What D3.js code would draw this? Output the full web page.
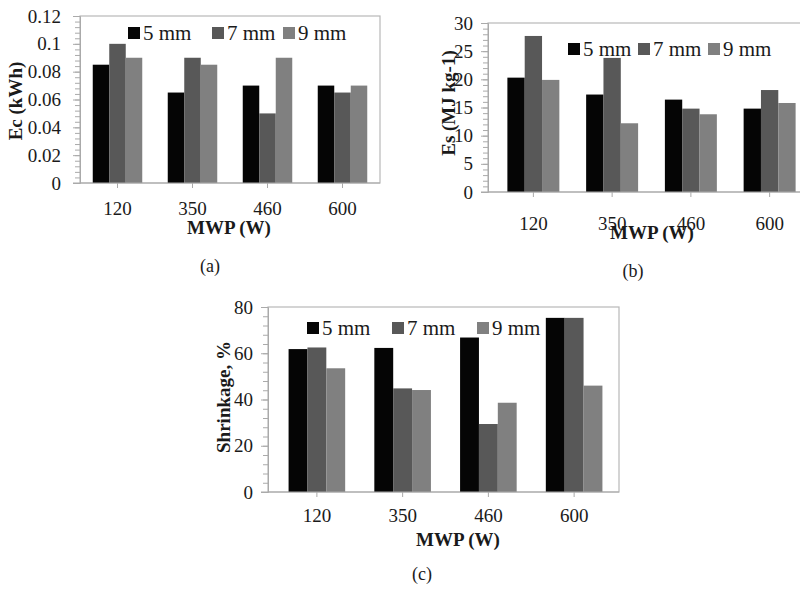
<!DOCTYPE html>
<html>
<head>
<meta charset="utf-8">
<script src="https://cdn.jsdelivr.net/npm/d3@7"></script>
<style>
  body { margin: 0; background: #fff; }
  text { font-family: "Liberation Serif", "DejaVu Serif", serif; fill: #1a1a1a; }
</style>
</head>
<body>
<svg width="800" height="592"></svg>
<script>
var categories = ['120', '350', '460', '600'];
var seriesNames = ['5 mm', '7 mm', '9 mm'];
var colors = ['#050505', '#585858', '#808080'];

// Ec (kWh)
var ecValues = [
  [0.085, 0.065, 0.07, 0.07],
  [0.1, 0.09, 0.05, 0.065],
  [0.09, 0.085, 0.09, 0.07]
];
var ecTicks = [0, 0.02, 0.04, 0.06, 0.08, 0.1, 0.12];

// Es (MJ kg-1)
var esValues = [
  [20.3, 17.3, 16.4, 14.8],
  [27.7, 23.8, 14.8, 18.1],
  [19.9, 12.2, 13.8, 15.8]
];
var esTicks = [0, 5, 10, 15, 20, 25, 30];

// Shrinkage, %
var shValues = [
  [61.8, 62.3, 66.8, 75.3],
  [62.5, 44.8, 29.4, 75.3],
  [53.5, 44.1, 38.6, 46]
];
var shTicks = [0, 20, 40, 60, 80];

var svg = d3.select('svg');

function drawPanel(cfg) {
  var g = svg.append('g');
  var y = d3.scaleLinear().domain([0, cfg.ticks[cfg.ticks.length - 1]]).range([cfg.bottom, cfg.top]);
  var x0 = d3.scaleBand().domain(categories).range([cfg.bandLeft, cfg.bandRight])
    .paddingInner(0.34).paddingOuter(0.17);
  var x1 = d3.scaleBand().domain(seriesNames).range([0, x0.bandwidth()]);

  // frame
  g.append('rect')
    .attr('x', cfg.left).attr('y', cfg.top)
    .attr('width', cfg.right - cfg.left).attr('height', cfg.bottom - cfg.top)
    .attr('fill', 'none').attr('stroke', '#b8b8b8').attr('stroke-width', 1.2);

  // bars
  seriesNames.forEach(function(s, i) {
    g.selectAll('.b' + i)
      .data(cfg.values[i])
      .enter().append('rect')
      .attr('x', function(d, j) { return x0(categories[j]) + x1(s); })
      .attr('y', function(d) { return y(d); })
      .attr('width', x1.bandwidth())
      .attr('height', function(d) { return cfg.bottom - y(d); })
      .attr('fill', colors[i]);
  });

  // y axis with minor ticks
  var step = cfg.ticks[1] - cfg.ticks[0];
  var minor = d3.range(0, cfg.ticks[cfg.ticks.length - 1] + step / 10, step / 5);
  var yMinor = d3.axisLeft(y).tickValues(minor).tickSize(5).tickFormat('');
  var gm = g.append('g').attr('transform', 'translate(' + cfg.left + ',0)').call(yMinor);
  gm.selectAll('line').attr('stroke', '#aaa');
  gm.select('.domain').remove();

  var yAxis = d3.axisLeft(y).tickValues(cfg.ticks).tickSize(7).tickPadding(cfg.tickPad)
    .tickFormat(function(d) { return String(d); });
  var ga = g.append('g').attr('transform', 'translate(' + cfg.left + ',0)').call(yAxis);
  ga.attr('font-family', null);
  ga.select('.domain').attr('stroke', '#aaa');
  ga.selectAll('line').attr('stroke', '#aaa');
  ga.selectAll('text').style('font-size', '19px').attr('fill', '#1a1a1a');

  // x axis
  var xAxis = d3.axisBottom(x0).tickSize(5).tickSizeOuter(0).tickPadding(cfg.xPad);
  var gx = g.append('g').attr('transform', 'translate(0,' + cfg.bottom + ')').call(xAxis);
  gx.attr('font-family', null);
  gx.select('.domain').remove();
  gx.selectAll('line').attr('stroke', '#aaa');
  gx.selectAll('text').style('font-size', '19px').attr('fill', '#1a1a1a');
  g.append('line')
    .attr('x1', cfg.left - 7).attr('x2', cfg.right)
    .attr('y1', cfg.bottom).attr('y2', cfg.bottom)
    .attr('stroke', '#aaa').attr('stroke-width', 1.2);

  // legend
  var lg = g.selectAll('.leg').data(seriesNames).enter().append('g')
    .attr('transform', function(d, i) { return 'translate(' + cfg.legendX[i] + ',' + cfg.legendY + ')'; });
  lg.append('rect').attr('x', 0).attr('y', -6).attr('width', 12).attr('height', 12)
    .attr('fill', function(d, i) { return colors[i]; });
  lg.append('text').attr('x', 15).attr('y', 7).style('font-size', '21px').text(function(d) { return d; });

  // titles
  g.append('text')
    .attr('transform', 'translate(' + cfg.yTitleX + ',' + cfg.yTitleY + ') rotate(-90)')
    .attr('text-anchor', 'middle').attr('dy', '0.35em')
    .style('font-size', '19px').style('font-weight', 'bold')
    .text(cfg.yTitle);
  g.append('text')
    .attr('x', cfg.xTitleX).attr('y', cfg.xTitleY)
    .attr('text-anchor', 'middle')
    .style('font-size', '19px').style('font-weight', 'bold')
    .text('MWP (W)');
  g.append('text')
    .attr('x', cfg.capX).attr('y', cfg.capY)
    .attr('text-anchor', 'middle')
    .style('font-size', '18px')
    .text(cfg.caption);
}

drawPanel({
  values: ecValues, ticks: ecTicks, yTitle: 'Ec (kWh)', caption: '(a)',
  left: 80, right: 380, top: 16, bottom: 183, bandLeft: 80, bandRight: 380,
  tickPad: 12, xPad: 14,
  legendX: [128, 212, 283], legendY: 33,
  yTitleX: 15, yTitleY: 101, xTitleX: 229, xTitleY: 234, capX: 210, capY: 272
});

drawPanel({
  values: esValues, ticks: esTicks, yTitle: 'Es (MJ kg-1)', caption: '(b)',
  left: 488, right: 812, top: 23, bottom: 192, bandLeft: 494, bandRight: 809,
  tickPad: 8, xPad: 20,
  legendX: [568, 638, 708], legendY: 49,
  yTitleX: 448, yTitleY: 103, xTitleX: 652, xTitleY: 239, capX: 633, capY: 277
});

drawPanel({
  values: shValues, ticks: shTicks, yTitle: 'Shrinkage, %', caption: '(c)',
  left: 268, right: 619, top: 307, bottom: 492, bandLeft: 274, bandRight: 617,
  tickPad: 8, xPad: 12,
  legendX: [307, 392, 477], legendY: 328,
  yTitleX: 223, yTitleY: 397, xTitleX: 458, xTitleY: 546, capX: 422, capY: 580
});
</script>
</body>
</html>
